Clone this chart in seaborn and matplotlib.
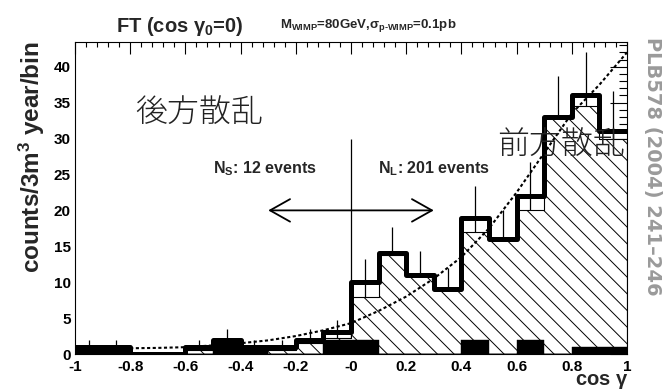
import numpy as np
import pandas as pd
import matplotlib
matplotlib.use("Agg")
import matplotlib.pyplot as plt
from matplotlib.ticker import FixedLocator, FixedFormatter, MultipleLocator
import seaborn as sns

# ---------------- data ----------------
bin_edges = [-1.0, -0.9, -0.8, -0.7, -0.6, -0.5, -0.4, -0.3, -0.2, -0.1, 0.0,
             0.1, 0.2, 0.3, 0.4, 0.5, 0.6, 0.7, 0.8, 0.9, 1.0]
data_counts = [1, 1, 0, 0, 1, 2, 1, 1, 2, 3,
               10, 14, 11, 9, 19, 16, 22, 33, 36, 31]
mc_counts = [0.3, 0.3, 0.0, 0.0, 0.5, 0.5, 0.5, 0.5, 1.5, 2.2,
             8.0, 13.8, 11.0, 9.0, 17.0, 16.0, 20.0, 33.0, 34.5, 30.0]
black_counts = [1, 1, 0, 0, 0, 2, 1, 0, 0, 2,
                2, 0, 0, 0, 2, 0, 2, 0, 1, 1]
curve_x = [-0.8, -0.7, -0.6, -0.5, -0.4, -0.3, -0.2, -0.1, 0.0, 0.1,
           0.2, 0.3, 0.4, 0.5, 0.6, 0.7, 0.8, 0.9, 1.0]
curve_y = [0.8, 0.85, 0.95, 1.2, 1.5, 1.9, 2.5, 3.3, 4.3, 6.0,
           8.0, 10.5, 13.5, 17.5, 22.5, 28.0, 33.5, 37.5, 42.0]
xtick_values = [-1.0, -0.8, -0.6, -0.4, -0.2, 0.0, 0.2, 0.4, 0.6, 0.8, 1.0]
xtick_labels = ["-1", "-0.8", "-0.6", "-0.4", "-0.2", "-0", "0.2", "0.4", "0.6", "0.8", "1"]
ytick_values = [0, 5, 10, 15, 20, 25, 30, 35, 40]
ytick_labels = ["0", "5", "10", "15", "20", "25", "30", "35", "40"]

title_text = r"FT (cos $\gamma_{0}$=0)"
subtitle_text = r"M$_{\mathrm{WIMP}}$=80GeV,$\sigma_{\text{p-WIMP}}$=0.1pb"
ylabel_text = r"counts/3m$^{3}$ year/bin"
xlabel_text = r"cos $\gamma$"
ns_text = r"N$_{\mathrm{S}}$: 12 events"
nl_text = r"N$_{\mathrm{L}}$: 201 events"
back_text = "後方散乱"
fwd_text = "前方散乱"
ref_text = "PLB578 (2004) 241–246"

# ---------------- style ----------------
sns.set_style("white")
plt.rcParams["font.family"] = ["Liberation Sans", "DejaVu Sans"]
plt.rcParams["font.weight"] = "bold"
plt.rcParams["mathtext.fontset"] = "custom"
plt.rcParams["mathtext.rm"] = "Liberation Sans:bold"
plt.rcParams["mathtext.it"] = "Liberation Sans:bold"
plt.rcParams["mathtext.bf"] = "Liberation Sans:bold"
plt.rcParams["mathtext.sf"] = "Liberation Sans:bold"
plt.rcParams["hatch.linewidth"] = 0.7
plt.rcParams["hatch.color"] = "black"

W, H = 663, 390
fig = plt.figure(figsize=(W / 100, H / 100), dpi=100)
ax = fig.add_axes([75 / W, 1 - 354 / H, (627 - 75) / W, (354 - 42) / H])

centers = [(a + b) / 2 for a, b in zip(bin_edges[:-1], bin_edges[1:])]
df = pd.DataFrame({"x": centers, "data": data_counts, "mc": mc_counts, "bg": black_counts})

# error bars and divider line (underneath the hatched fill)
nz = df[df["data"] > 0]
err = np.sqrt(nz["data"].to_numpy())
ax.vlines(nz["x"], nz["data"] - err, nz["data"] + err, colors="black", lw=0.9, zorder=0.5)
ax.vlines(0.0, 0, 30, colors="black", lw=0.9, zorder=0.5)

# MC expectation (hatched)
sns.histplot(data=df, x="x", weights="mc", bins=bin_edges, element="step", fill=True,
             facecolor="white", edgecolor="black", linewidth=0.8, hatch="\\\\",
             alpha=1, zorder=1, ax=ax)
# black filled histogram
sns.histplot(data=df, x="x", weights="bg", bins=bin_edges, element="step", fill=True,
             facecolor="black", edgecolor="black", linewidth=0.3, alpha=1, zorder=2, ax=ax)
# dashed curve
sns.lineplot(x=curve_x, y=curve_y, color="black", lw=1.5, linestyle=(0, (1.5, 1.2)),
             zorder=2.5, ax=ax)
# data histogram (thick)
sns.histplot(data=df, x="x", weights="data", bins=bin_edges, element="step", fill=False,
             color="black", linewidth=3.6, zorder=3, ax=ax)

# arrow
arrow_y = 20
ax.annotate("", xy=(-0.3, arrow_y), xytext=(0.3, arrow_y),
            arrowprops=dict(arrowstyle="<->,head_length=0.8,head_width=0.45", lw=1.3,
                            color="black", shrinkA=0, shrinkB=0, mutation_scale=18),
            zorder=4)

# texts in data coords
ax.text(-0.5, 25.1, ns_text, fontsize=11.5, fontweight="bold", ha="left", va="baseline")
ax.text(0.098, 25.1, nl_text, fontsize=11.5, fontweight="bold", ha="left", va="baseline")
cjk = ["Noto Sans CJK JP", "DejaVu Sans"]
ax.text(-0.783, 33.6, back_text, fontsize=23, family=cjk, fontweight="light",
        ha="left", va="center", color="#222222", zorder=5)
ax.text(0.529, 29.2, fwd_text, fontsize=23, family=cjk, fontweight="light",
        ha="left", va="center", color="#222222", zorder=5)

# axes
ax.set_xlim(-1, 1)
ax.set_ylim(0, 43.45)
ax.set_xlabel("")
ax.set_ylabel("")
ax.xaxis.set_major_locator(FixedLocator(xtick_values))
ax.xaxis.set_major_formatter(FixedFormatter(xtick_labels))
ax.xaxis.set_minor_locator(MultipleLocator(0.04))
ax.yaxis.set_major_locator(FixedLocator(ytick_values))
ax.yaxis.set_major_formatter(FixedFormatter(ytick_labels))
ax.yaxis.set_minor_locator(MultipleLocator(1))
ax.tick_params(which="both", direction="in", top=True, right=True, colors="black",
               labelsize=11, width=0.8)
ax.tick_params(axis="x", which="major", length=8.6, pad=4)
ax.tick_params(axis="x", which="minor", length=3.6)
ax.tick_params(axis="y", which="major", length=12, pad=3)
ax.tick_params(axis="y", which="minor", length=5.8)
for lbl in ax.get_xticklabels() + ax.get_yticklabels():
    lbl.set_fontweight("bold")
for s in ax.spines.values():
    s.set_color("black")
    s.set_linewidth(0.8)
    s.set_visible(True)

# figure texts
fig.text(180 / W, 1 - 32 / H, title_text, fontsize=14.5, fontweight="bold",
         ha="center", va="baseline")
fig.text(280 / W, 1 - 28 / H, subtitle_text, fontsize=9.5, fontweight="bold",
         ha="left", va="baseline")
fig.text(32 / W, 1 - 157 / H, ylabel_text, fontsize=17.5, fontweight="bold",
         rotation=90, ha="center", va="center")
fig.text(628 / W, 1 - 385 / H, xlabel_text, fontsize=14.5, fontweight="bold",
         ha="right", va="baseline")
fig.text(653 / W, 1 - 166 / H, ref_text, fontsize=14, fontweight="bold",
         family=["DejaVu Sans"], color="#9a9a9a", rotation=-90, ha="center", va="center")

fig.savefig("out.png", dpi=100, facecolor="white")
